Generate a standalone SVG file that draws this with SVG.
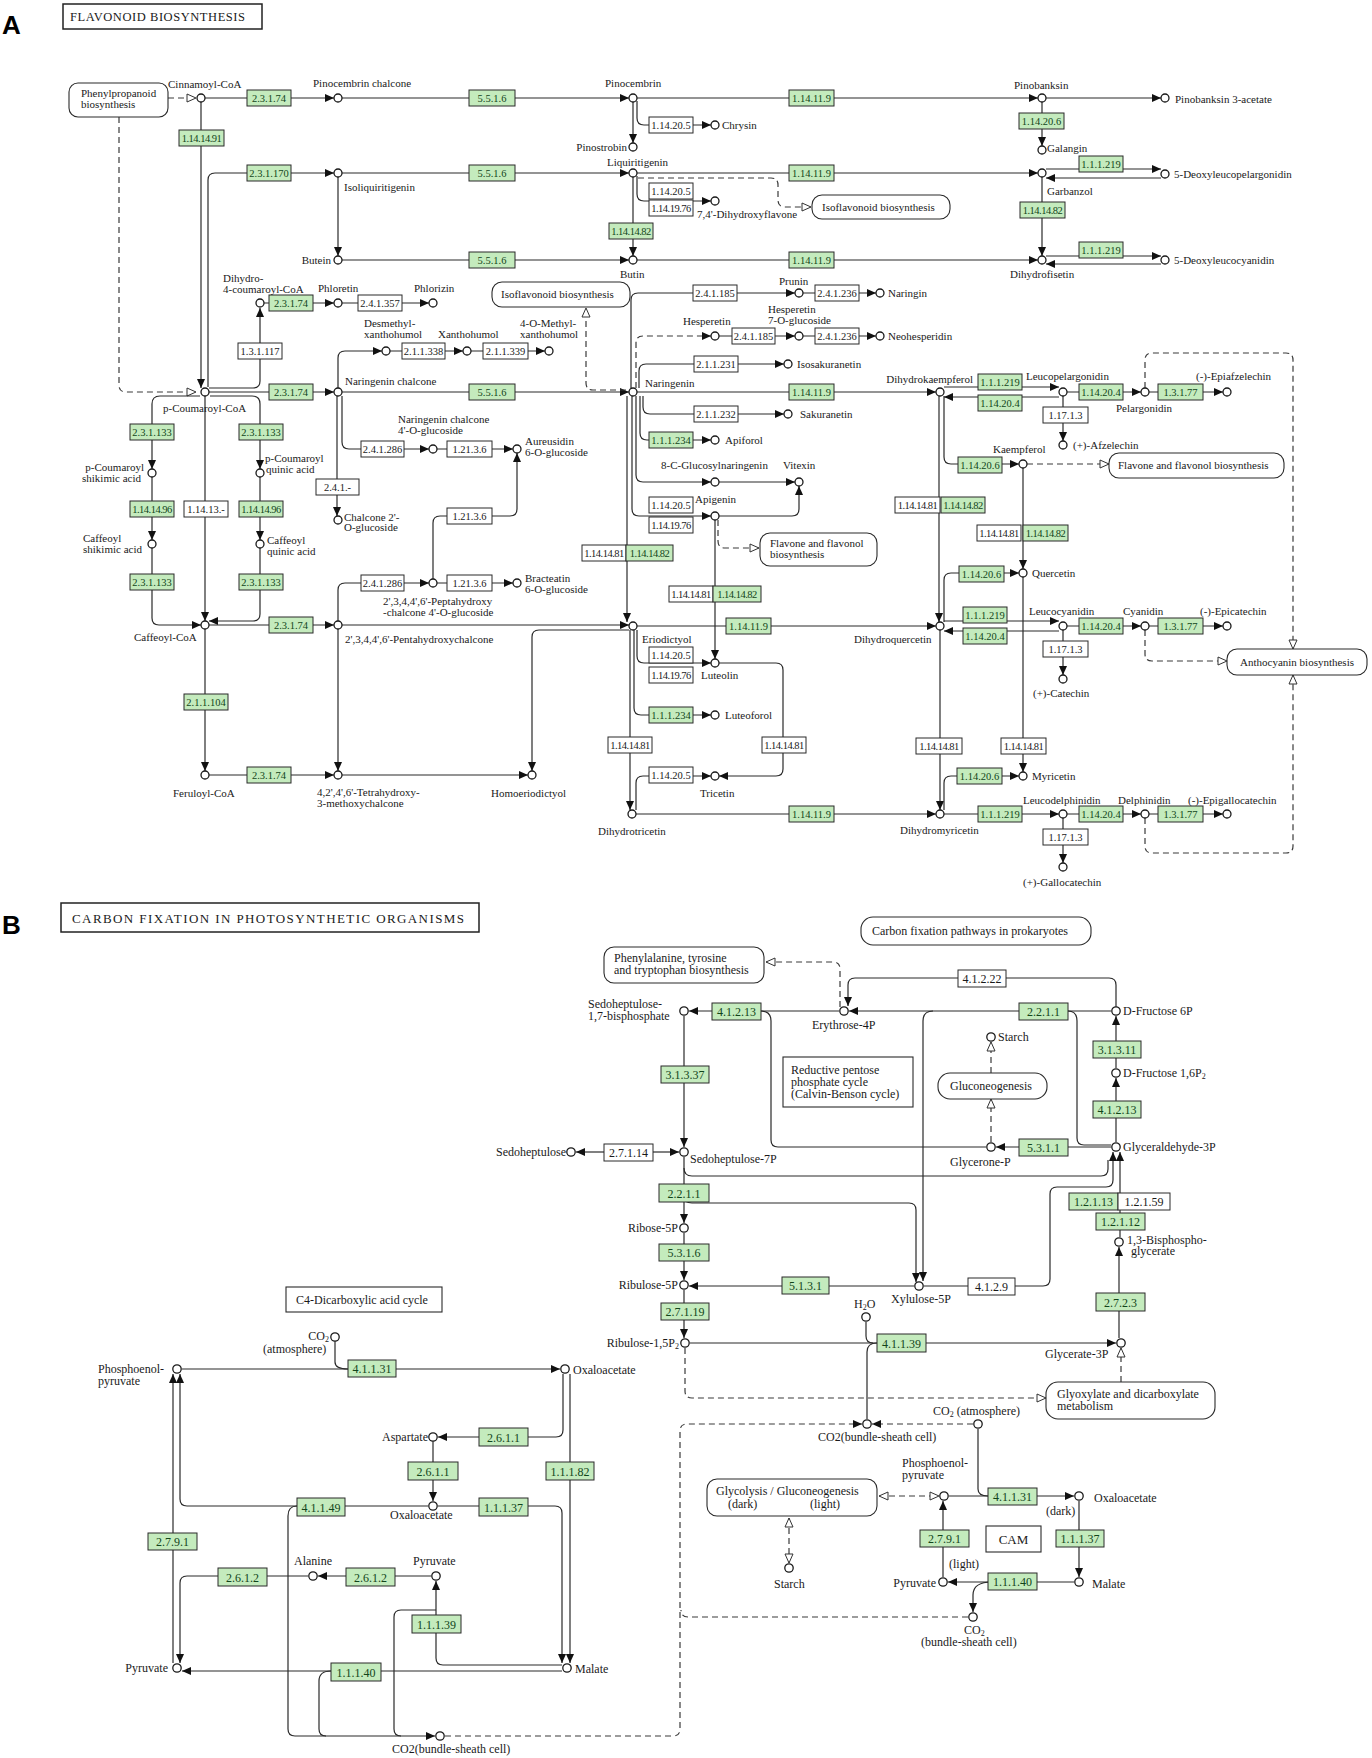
<svg xmlns="http://www.w3.org/2000/svg" width="1372" height="1758" viewBox="0 0 1372 1758">
<style>
text{font-family:"Liberation Serif","Times New Roman",serif;font-size:11px;fill:#1a1a1a}
.B text{font-size:12px}
.c{fill:#fff;stroke:#1a1a1a;stroke-width:1.3}
.eg rect{fill:#c4ebbd;stroke:#2a2a2a;stroke-width:1}
.ew rect{fill:#fff;stroke:#2a2a2a;stroke-width:1}
.eg text,.ew text{font-size:10.5px;text-anchor:middle}
.k text{letter-spacing:-0.5px}
.B .eg text,.B .ew text{font-size:12px}
.eg text{fill:#12451a}
.pw rect{fill:#fff;stroke:#2a2a2a;stroke-width:1.1}
.l{fill:none;stroke:#2a2a2a;stroke-width:1.2}
.a{marker-end:url(#ar)}
.d{fill:none;stroke:#3a3a3a;stroke-width:1.2;stroke-dasharray:6 4}
.o{marker-end:url(#oa)}
.os{marker-start:url(#osr)}
text.hd,.B text.hd{font-family:"Liberation Sans",Arial,sans-serif;font-weight:bold;font-size:26px;fill:#000}
.ttl{font-size:12.5px}
.ed{text-anchor:end}
</style>
<defs>
<marker id="ar" viewBox="0 0 9 8" refX="9" refY="4" markerWidth="9" markerHeight="8" markerUnits="userSpaceOnUse" orient="auto"><path d="M0,0L9,4L0,8z" fill="#111"/></marker>
<marker id="oa" viewBox="-1 -1 11 10" refX="9" refY="4" markerWidth="11" markerHeight="10" markerUnits="userSpaceOnUse" orient="auto"><path d="M0,0L9,4L0,8z" fill="#fff" stroke="#333" stroke-width="1"/></marker>
<marker id="osr" viewBox="-1 -1 11 10" refX="9" refY="4" markerWidth="11" markerHeight="10" markerUnits="userSpaceOnUse" orient="auto-start-reverse"><path d="M0,0L9,4L0,8z" fill="#fff" stroke="#333" stroke-width="1"/></marker>
</defs>
<rect width="1372" height="1758" fill="#fff"/>

<!-- ================= PANEL A ================= -->
<g id="panelA">
<text class="hd" x="2" y="34">A</text>
<g id="titleA"><rect x="63" y="4" width="199" height="25" fill="none" stroke="#222" stroke-width="1.5"/><text class="ttl" x="70" y="21" textLength="175" lengthAdjust="spacing">FLAVONOID BIOSYNTHESIS</text></g>

<g id="connectorsA">
<path class="d o" d="M168,98 H196"/>
<path class="d o" d="M119,117 V385 Q119,392 126,392 H196"/>
<path class="l a" d="M205,98 H334"/>
<path class="l a" d="M342,98 H629"/>
<path class="l a" d="M637,98 H1038"/>
<path class="l a" d="M1046,98 H1161"/>
<path class="l a" d="M633,102 V143"/>
<path class="l a" d="M637,101 V118 Q637,125 644,125 H711"/>
<path class="l a" d="M1042,102 V146"/>
<path class="l a" d="M201,102 V388"/>
<path class="l a" d="M208,387 V180 Q208,173 215,173 H334"/>
<path class="l a" d="M209,388 H253 Q260,388 260,381 V308"/>
<path class="l a" d="M342,173 H629"/>
<path class="l a" d="M637,173 H1038"/>
<path class="l a" d="M1046,169 H1161"/>
<path class="l a" d="M1161,178 H1046"/>
<path class="l a" d="M338,177 V256"/>
<path class="l a" d="M637,176 V194 Q637,201 644,201 H711"/>
<path class="d o" d="M638,178 H771 Q778,178 778,185 V200 Q778,207 785,207 H811"/>
<path class="l a" d="M633,177 V256"/>
<path class="l a" d="M1042,177 V256"/>
<path class="l a" d="M342,260 H629"/>
<path class="l a" d="M637,260 H1038"/>
<path class="l a" d="M1046,256 H1161"/>
<path class="l a" d="M1161,264 H1046"/>
<path class="l a" d="M264,303 H334"/>
<path class="l a" d="M342,303 H429"/>
<path class="l a" d="M342,392 H629"/>
<path class="l a" d="M209,392 H334"/>
<path class="l a" d="M338,388 V358 Q338,351 345,351 H382"/>
<path class="l a" d="M390,351 H463"/>
<path class="l a" d="M471,351 H545"/>
<path class="l a" d="M342,396 V442 Q342,449 349,449 H429"/>
<path class="l a" d="M337,396 V516"/>
<path class="l a" d="M437,449 H513"/>
<path class="l a" d="M433,579 V523 Q433,516 440,516 H510 Q517,516 517,509 V453"/>
<path class="l a" d="M437,583 H513"/>
<path class="l a" d="M338,621 V590 Q338,583 345,583 H429"/>
<path class="d o" d="M626,390 H593 Q586,390 586,383 V308"/>
<path class="l a" d="M631,388 V300 Q631,293 638,293 H795"/>
<path class="l a" d="M803,293 H876"/>
<path class="d a" d="M636,388 V343 Q636,336 643,336 H711"/>
<path class="l a" d="M719,336 H795"/>
<path class="l a" d="M803,336 H876"/>
<path class="l a" d="M639,388 V371 Q639,364 646,364 H784"/>
<path class="l a" d="M637,392 H936"/>
<path class="l a" d="M643,396 V407 Q643,414 650,414 H784"/>
<path class="l a" d="M640,396 V433 Q640,440 647,440 H711"/>
<path class="l a" d="M636,396 V475 Q636,482 643,482 H711"/>
<path class="l a" d="M719,482 H795"/>
<path class="l a" d="M632,396 V509 Q632,516 639,516 H711"/>
<path class="l a" d="M719,516 H792 Q799,516 799,509 V486"/>
<path class="d o" d="M718,520 V541 Q718,548 725,548 H759"/>
<path class="l a" d="M627,396 V622"/>
<path class="l a" d="M715,520 V659"/>
<path class="l a" d="M637,626 H936"/>
<path class="l a" d="M342,625 H629"/>
<path class="l a" d="M629,630 H539 Q532,630 532,637 V771"/>
<path class="l a" d="M342,775 H528"/>
<path class="l a" d="M637,630 V656 Q637,663 644,663 H711"/>
<path class="l a" d="M634,630 V708 Q634,715 641,715 H711"/>
<path class="l a" d="M630,630 V810"/>
<path class="l a" d="M719,663 H776 Q783,663 783,670 V769 Q783,776 776,776 H719"/>
<path class="l a" d="M636,810 V783 Q636,776 643,776 H711"/>
<path class="l a" d="M636,814 H936"/>
<path class="l a" d="M200,396 H160 Q152,396 152,404 V469"/>
<path class="l a" d="M210,396 H252 Q260,396 260,404 V469"/>
<path class="l a" d="M205,396 V621"/>
<path class="l a" d="M152,477 V540"/>
<path class="l a" d="M260,477 V540"/>
<path class="l a" d="M152,548 V618 Q152,625 159,625 H201"/>
<path class="l a" d="M260,548 V614 Q260,621 253,621 H209"/>
<path class="l a" d="M209,625 H334"/>
<path class="l a" d="M205,629 V771"/>
<path class="l a" d="M209,775 H334"/>
<path class="l a" d="M338,629 V771"/>
<path class="l a" d="M944,387 H1059"/>
<path class="l a" d="M1059,397 H944"/>
<path class="l a" d="M1067,392 H1141"/>
<path class="l a" d="M1149,392 H1223"/>
<path class="l a" d="M1063,396 V441"/>
<path class="d o" d="M1145,388 V360 Q1145,353 1152,353 H1286 Q1293,353 1293,360 V649"/>
<path class="l a" d="M944,396 V457 Q944,464 951,464 H1019"/>
<path class="d o" d="M1027,464 H1109"/>
<path class="l a" d="M939,396 V622"/>
<path class="l a" d="M1023,468 V569"/>
<path class="l a" d="M944,622 V580 Q944,573 951,573 H1019"/>
<path class="l a" d="M944,621 H1059"/>
<path class="l a" d="M1059,631 H944"/>
<path class="l a" d="M1067,626 H1141"/>
<path class="l a" d="M1149,626 H1223"/>
<path class="l a" d="M1063,630 V675"/>
<path class="d o" d="M1145,630 V654 Q1145,661 1152,661 H1227"/>
<path class="l a" d="M1023,577 V772"/>
<path class="l a" d="M940,630 V810"/>
<path class="l a" d="M944,810 V783 Q944,776 951,776 H1019"/>
<path class="l a" d="M944,814 H1059"/>
<path class="l a" d="M1067,814 H1141"/>
<path class="l a" d="M1149,814 H1223"/>
<path class="l a" d="M1063,818 V863"/>
<path class="d o" d="M1145,818 V846 Q1145,853 1152,853 H1286 Q1293,853 1293,846 V675"/>
</g>

<g id="pathwaysA">
<g id="pw_phenylpropanoid" class="pw"><rect x="69" y="83" width="99" height="34" rx="9"/><text x="81" y="97">Phenylpropanoid</text><text x="81" y="108">biosynthesis</text></g>
<g id="pw_isoflav1" class="pw"><rect x="812" y="195" width="138" height="24" rx="10"/><text x="822" y="211">Isoflavonoid biosynthesis</text></g>
<g id="pw_isoflav2" class="pw"><rect x="492" y="282" width="138" height="25" rx="10"/><text x="501" y="298">Isoflavonoid biosynthesis</text></g>
<g id="pw_flavone1" class="pw"><rect x="760" y="533" width="117" height="33" rx="10"/><text x="770" y="547">Flavone and flavonol</text><text x="770" y="558">biosynthesis</text></g>
<g id="pw_flavone2" class="pw"><rect x="1109" y="453" width="175" height="25" rx="10"/><text x="1118" y="469">Flavone and flavonol biosynthesis</text></g>
<g id="pw_anthocyanin" class="pw"><rect x="1227" y="649" width="140" height="26" rx="10"/><text x="1240" y="666">Anthocyanin biosynthesis</text></g>
</g>

<g id="enzymesA">
<g id="ea01" class="eg"><rect x="247" y="90" width="44" height="16"/><text x="269" y="102">2.3.1.74</text></g>
<g id="ea02" class="eg k"><rect x="179" y="130" width="45" height="16"/><text x="201.5" y="142">1.14.14.91</text></g>
<g id="ea03" class="eg"><rect x="469" y="90" width="46" height="16"/><text x="492" y="102">5.5.1.6</text></g>
<g id="ea04" class="eg"><rect x="789" y="90" width="45" height="16"/><text x="811.5" y="102">1.14.11.9</text></g>
<g id="ea05" class="ew"><rect x="649" y="117" width="44" height="16"/><text x="671" y="129">1.14.20.5</text></g>
<g id="ea06" class="eg"><rect x="1019" y="113" width="45" height="16"/><text x="1041.5" y="125">1.14.20.6</text></g>
<g id="ea07" class="eg"><rect x="247" y="165" width="44" height="16"/><text x="269" y="177">2.3.1.170</text></g>
<g id="ea08" class="eg"><rect x="469" y="165" width="46" height="16"/><text x="492" y="177">5.5.1.6</text></g>
<g id="ea09" class="eg"><rect x="789" y="165" width="45" height="16"/><text x="811.5" y="177">1.14.11.9</text></g>
<g id="ea10" class="ew"><rect x="649" y="183" width="44" height="16"/><text x="671" y="195">1.14.20.5</text></g>
<g id="ea11" class="ew k"><rect x="649" y="200" width="44" height="16"/><text x="671" y="212">1.14.19.76</text></g>
<g id="ea12" class="eg"><rect x="1079" y="156" width="44" height="16"/><text x="1101" y="168">1.1.1.219</text></g>
<g id="ea13" class="eg k"><rect x="609" y="223" width="44" height="16"/><text x="631" y="235">1.14.14.82</text></g>
<g id="ea14" class="eg k"><rect x="1020" y="202" width="45" height="16"/><text x="1042.5" y="214">1.14.14.82</text></g>
<g id="ea15" class="eg"><rect x="469" y="252" width="46" height="16"/><text x="492" y="264">5.5.1.6</text></g>
<g id="ea16" class="eg"><rect x="789" y="252" width="45" height="16"/><text x="811.5" y="264">1.14.11.9</text></g>
<g id="ea17" class="eg"><rect x="1079" y="242" width="44" height="16"/><text x="1101" y="254">1.1.1.219</text></g>
<g id="ea18" class="eg"><rect x="269" y="295" width="44" height="16"/><text x="291" y="307">2.3.1.74</text></g>
<g id="ea19" class="ew"><rect x="358" y="295" width="44" height="16"/><text x="380" y="307">2.4.1.357</text></g>
<g id="ea20" class="ew"><rect x="238" y="343" width="44" height="16"/><text x="260" y="355">1.3.1.117</text></g>
<g id="ea21" class="ew"><rect x="402" y="343" width="43" height="16"/><text x="423.5" y="355">2.1.1.338</text></g>
<g id="ea22" class="ew"><rect x="483" y="343" width="45" height="16"/><text x="505.5" y="355">2.1.1.339</text></g>
<g id="ea23" class="ew"><rect x="693" y="285" width="44" height="16"/><text x="715" y="297">2.4.1.185</text></g>
<g id="ea24" class="ew"><rect x="815" y="285" width="44" height="16"/><text x="837" y="297">2.4.1.236</text></g>
<g id="ea25" class="ew"><rect x="732" y="328" width="43" height="16"/><text x="753.5" y="340">2.4.1.185</text></g>
<g id="ea26" class="ew"><rect x="815" y="328" width="44" height="16"/><text x="837" y="340">2.4.1.236</text></g>
<g id="ea27" class="ew"><rect x="694" y="356" width="44" height="16"/><text x="716" y="368">2.1.1.231</text></g>
<g id="ea28" class="eg"><rect x="269" y="384" width="44" height="16"/><text x="291" y="396">2.3.1.74</text></g>
<g id="ea29" class="eg"><rect x="469" y="384" width="46" height="16"/><text x="492" y="396">5.5.1.6</text></g>
<g id="ea30" class="eg"><rect x="789" y="384" width="45" height="16"/><text x="811.5" y="396">1.14.11.9</text></g>
<g id="ea31" class="ew"><rect x="694" y="406" width="44" height="16"/><text x="716" y="418">2.1.1.232</text></g>
<g id="ea32" class="eg"><rect x="649" y="432" width="44" height="16"/><text x="671" y="444">1.1.1.234</text></g>
<g id="ea33" class="eg"><rect x="978" y="374" width="44" height="16"/><text x="1000" y="386">1.1.1.219</text></g>
<g id="ea34" class="eg"><rect x="978" y="395" width="44" height="16"/><text x="1000" y="407">1.14.20.4</text></g>
<g id="ea35" class="eg"><rect x="1079" y="384" width="44" height="16"/><text x="1101" y="396">1.14.20.4</text></g>
<g id="ea36" class="eg"><rect x="1158" y="384" width="45" height="16"/><text x="1180.5" y="396">1.3.1.77</text></g>
<g id="ea37" class="ew"><rect x="1043" y="407" width="45" height="16"/><text x="1065.5" y="419">1.17.1.3</text></g>
<g id="ea38" class="eg"><rect x="130" y="424" width="44" height="16"/><text x="152" y="436">2.3.1.133</text></g>
<g id="ea39" class="eg"><rect x="239" y="424" width="44" height="16"/><text x="261" y="436">2.3.1.133</text></g>
<g id="ea40" class="ew"><rect x="361" y="441" width="43" height="16"/><text x="382.5" y="453">2.4.1.286</text></g>
<g id="ea41" class="ew"><rect x="447" y="441" width="45" height="16"/><text x="469.5" y="453">1.21.3.6</text></g>
<g id="ea42" class="ew"><rect x="316" y="479" width="43" height="16"/><text x="337.5" y="491">2.4.1.-</text></g>
<g id="ea43" class="eg k"><rect x="130" y="501" width="44" height="16"/><text x="152" y="513">1.14.14.96</text></g>
<g id="ea44" class="ew"><rect x="184" y="501" width="44" height="16"/><text x="206" y="513">1.14.13.-</text></g>
<g id="ea45" class="eg k"><rect x="239" y="501" width="44" height="16"/><text x="261" y="513">1.14.14.96</text></g>
<g id="ea46" class="ew"><rect x="447" y="508" width="45" height="16"/><text x="469.5" y="520">1.21.3.6</text></g>
<g id="ea47" class="eg"><rect x="130" y="574" width="44" height="16"/><text x="152" y="586">2.3.1.133</text></g>
<g id="ea48" class="eg"><rect x="239" y="574" width="44" height="16"/><text x="261" y="586">2.3.1.133</text></g>
<g id="ea49" class="ew"><rect x="361" y="575" width="43" height="16"/><text x="382.5" y="587">2.4.1.286</text></g>
<g id="ea50" class="ew"><rect x="447" y="575" width="45" height="16"/><text x="469.5" y="587">1.21.3.6</text></g>
<g id="ea51" class="eg"><rect x="269" y="617" width="44" height="16"/><text x="291" y="629">2.3.1.74</text></g>
<g id="ea52" class="ew"><rect x="649" y="497" width="44" height="16"/><text x="671" y="509">1.14.20.5</text></g>
<g id="ea53" class="ew k"><rect x="649" y="517" width="44" height="16"/><text x="671" y="529">1.14.19.76</text></g>
<g id="ea54" class="ew k"><rect x="582" y="545" width="44" height="16"/><text x="604" y="557">1.14.14.81</text></g>
<g id="ea55" class="eg k"><rect x="626" y="545" width="47" height="16"/><text x="649.5" y="557">1.14.14.82</text></g>
<g id="ea56" class="ew k"><rect x="669" y="586" width="44" height="16"/><text x="691" y="598">1.14.14.81</text></g>
<g id="ea57" class="eg k"><rect x="713" y="586" width="48" height="16"/><text x="737" y="598">1.14.14.82</text></g>
<g id="ea58" class="eg"><rect x="726" y="618" width="45" height="16"/><text x="748.5" y="630">1.14.11.9</text></g>
<g id="ea59" class="eg"><rect x="958" y="457" width="44" height="16"/><text x="980" y="469">1.14.20.6</text></g>
<g id="ea60" class="ew k"><rect x="895" y="497" width="45" height="16"/><text x="917.5" y="509">1.14.14.81</text></g>
<g id="ea61" class="eg k"><rect x="941" y="497" width="44" height="16"/><text x="963" y="509">1.14.14.82</text></g>
<g id="ea62" class="ew k"><rect x="977" y="525" width="44" height="16"/><text x="999" y="537">1.14.14.81</text></g>
<g id="ea63" class="eg k"><rect x="1023" y="525" width="45" height="16"/><text x="1045.5" y="537">1.14.14.82</text></g>
<g id="ea64" class="eg"><rect x="959" y="566" width="45" height="16"/><text x="981.5" y="578">1.14.20.6</text></g>
<g id="ea65" class="eg"><rect x="963" y="607" width="44" height="16"/><text x="985" y="619">1.1.1.219</text></g>
<g id="ea66" class="eg"><rect x="963" y="628" width="44" height="16"/><text x="985" y="640">1.14.20.4</text></g>
<g id="ea67" class="eg"><rect x="1079" y="618" width="44" height="16"/><text x="1101" y="630">1.14.20.4</text></g>
<g id="ea68" class="eg"><rect x="1158" y="618" width="45" height="16"/><text x="1180.5" y="630">1.3.1.77</text></g>
<g id="ea69" class="ew"><rect x="1043" y="641" width="45" height="16"/><text x="1065.5" y="653">1.17.1.3</text></g>
<g id="ea70" class="ew"><rect x="649" y="647" width="44" height="16"/><text x="671" y="659">1.14.20.5</text></g>
<g id="ea71" class="ew k"><rect x="649" y="667" width="44" height="16"/><text x="671" y="679">1.14.19.76</text></g>
<g id="ea72" class="eg"><rect x="649" y="707" width="44" height="16"/><text x="671" y="719">1.1.1.234</text></g>
<g id="ea73" class="eg"><rect x="184" y="694" width="44" height="16"/><text x="206" y="706">2.1.1.104</text></g>
<g id="ea74" class="ew k"><rect x="608" y="737" width="44" height="16"/><text x="630" y="749">1.14.14.81</text></g>
<g id="ea75" class="ew k"><rect x="762" y="737" width="44" height="16"/><text x="784" y="749">1.14.14.81</text></g>
<g id="ea76" class="ew k"><rect x="916" y="738" width="46" height="16"/><text x="939" y="750">1.14.14.81</text></g>
<g id="ea77" class="ew k"><rect x="1001" y="738" width="45" height="16"/><text x="1023.5" y="750">1.14.14.81</text></g>
<g id="ea78" class="eg"><rect x="247" y="767" width="44" height="16"/><text x="269" y="779">2.3.1.74</text></g>
<g id="ea79" class="ew"><rect x="649" y="767" width="44" height="16"/><text x="671" y="779">1.14.20.5</text></g>
<g id="ea80" class="eg"><rect x="957" y="768" width="45" height="16"/><text x="979.5" y="780">1.14.20.6</text></g>
<g id="ea81" class="eg"><rect x="789" y="806" width="45" height="16"/><text x="811.5" y="818">1.14.11.9</text></g>
<g id="ea82" class="eg"><rect x="978" y="806" width="44" height="16"/><text x="1000" y="818">1.1.1.219</text></g>
<g id="ea83" class="eg"><rect x="1079" y="806" width="44" height="16"/><text x="1101" y="818">1.14.20.4</text></g>
<g id="ea84" class="eg"><rect x="1158" y="806" width="45" height="16"/><text x="1180.5" y="818">1.3.1.77</text></g>
<g id="ea85" class="ew"><rect x="1043" y="829" width="45" height="16"/><text x="1065.5" y="841">1.17.1.3</text></g>
</g>

<g id="compoundsA">
<g id="na_cinnamoyl"><circle class="c" cx="201" cy="98" r="4"/><text x="168" y="88">Cinnamoyl-CoA</text></g>
<g id="na_pinocembrin_chalcone"><circle class="c" cx="338" cy="98" r="4"/><text x="313" y="87">Pinocembrin chalcone</text></g>
<g id="na_pinocembrin"><circle class="c" cx="633" cy="98" r="4"/><text x="605" y="87">Pinocembrin</text></g>
<g id="na_pinostrobin"><circle class="c" cx="633" cy="147" r="4"/><text class="ed" x="627" y="151">Pinostrobin</text></g>
<g id="na_chrysin"><circle class="c" cx="715" cy="125" r="4"/><text x="722" y="129">Chrysin</text></g>
<g id="na_pinobanksin"><circle class="c" cx="1042" cy="98" r="4"/><text x="1014" y="89">Pinobanksin</text></g>
<g id="na_pinobanksin3ac"><circle class="c" cx="1165" cy="98" r="4"/><text x="1175" y="103">Pinobanksin 3-acetate</text></g>
<g id="na_galangin"><circle class="c" cx="1042" cy="150" r="4"/><text x="1047" y="152">Galangin</text></g>
<g id="na_isoliquiritigenin"><circle class="c" cx="338" cy="173" r="4"/><text x="344" y="191">Isoliquiritigenin</text></g>
<g id="na_liquiritigenin"><circle class="c" cx="633" cy="173" r="4"/><text x="607" y="166">Liquiritigenin</text></g>
<g id="na_dihydroxyflavone"><circle class="c" cx="715" cy="201" r="4"/><text x="697" y="218">7,4'-Dihydroxyflavone</text></g>
<g id="na_garbanzol"><circle class="c" cx="1042" cy="173" r="4"/><text x="1047" y="195">Garbanzol</text></g>
<g id="na_5deoxylp"><circle class="c" cx="1165" cy="174" r="4"/><text x="1174" y="178">5-Deoxyleucopelargonidin</text></g>
<g id="na_butein"><circle class="c" cx="338" cy="260" r="4"/><text class="ed" x="331" y="264">Butein</text></g>
<g id="na_butin"><circle class="c" cx="633" cy="260" r="4"/><text x="620" y="278">Butin</text></g>
<g id="na_dihydrofisetin"><circle class="c" cx="1042" cy="260" r="4"/><text x="1010" y="278">Dihydrofisetin</text></g>
<g id="na_5deoxylc"><circle class="c" cx="1165" cy="260" r="4"/><text x="1174" y="264">5-Deoxyleucocyanidin</text></g>
<g id="na_dihydrocoumaroyl"><circle class="c" cx="260" cy="303" r="4"/><text x="223" y="282">Dihydro-</text><text x="223" y="293">4-coumaroyl-CoA</text></g>
<g id="na_phloretin"><circle class="c" cx="338" cy="303" r="4"/><text x="318" y="292">Phloretin</text></g>
<g id="na_phlorizin"><circle class="c" cx="433" cy="303" r="4"/><text x="414" y="292">Phlorizin</text></g>
<g id="na_prunin"><circle class="c" cx="799" cy="293" r="4"/><text x="779" y="285">Prunin</text></g>
<g id="na_naringin"><circle class="c" cx="880" cy="293" r="4"/><text x="888" y="297">Naringin</text></g>
<g id="na_hesperetin"><circle class="c" cx="715" cy="336" r="4"/><text x="683" y="325">Hesperetin</text></g>
<g id="na_hesperetin7g"><circle class="c" cx="799" cy="336" r="4"/><text x="768" y="313">Hesperetin</text><text x="768" y="324">7-O-glucoside</text></g>
<g id="na_neohesperidin"><circle class="c" cx="880" cy="336" r="4"/><text x="888" y="340">Neohesperidin</text></g>
<g id="na_desmethylxh"><circle class="c" cx="386" cy="351" r="4"/><text x="364" y="327">Desmethyl-</text><text x="364" y="338">xanthohumol</text></g>
<g id="na_xanthohumol"><circle class="c" cx="467" cy="351" r="4"/><text x="438" y="338">Xanthohumol</text></g>
<g id="na_4omethylxh"><circle class="c" cx="549" cy="351" r="4"/><text x="520" y="327">4-O-Methyl-</text><text x="520" y="338">xanthohumol</text></g>
<g id="na_isosakuranetin"><circle class="c" cx="788" cy="364" r="4"/><text x="797" y="368">Isosakuranetin</text></g>
<g id="na_pcoumaroylcoa"><circle class="c" cx="205" cy="392" r="4"/><text x="163" y="412">p-Coumaroyl-CoA</text></g>
<g id="na_naringenin_chalcone"><circle class="c" cx="338" cy="392" r="4"/><text x="345" y="385">Naringenin chalcone</text></g>
<g id="na_naringenin"><circle class="c" cx="633" cy="392" r="4"/><text x="645" y="387">Naringenin</text></g>
<g id="na_sakuranetin"><circle class="c" cx="788" cy="414" r="4"/><text x="800" y="418">Sakuranetin</text></g>
<g id="na_apiforol"><circle class="c" cx="715" cy="440" r="4"/><text x="725" y="444">Apiforol</text></g>
<g id="na_dihydrokaempferol"><circle class="c" cx="940" cy="392" r="4"/><text class="ed" x="973" y="383">Dihydrokaempferol</text></g>
<g id="na_leucopelargonidin"><circle class="c" cx="1063" cy="392" r="4"/><text x="1026" y="380">Leucopelargonidin</text></g>
<g id="na_pelargonidin"><circle class="c" cx="1145" cy="392" r="4"/><text x="1116" y="412">Pelargonidin</text></g>
<g id="na_epiafzelechin"><circle class="c" cx="1227" cy="392" r="4"/><text x="1196" y="380">(-)-Epiafzelechin</text></g>
<g id="na_afzelechin"><circle class="c" cx="1063" cy="445" r="4"/><text x="1073" y="449">(+)-Afzelechin</text></g>
<g id="na_ncglucoside"><circle class="c" cx="433" cy="449" r="4"/><text x="398" y="423">Naringenin chalcone</text><text x="398" y="434">4'-O-glucoside</text></g>
<g id="na_aureusidin"><circle class="c" cx="517" cy="449" r="4"/><text x="525" y="445">Aureusidin</text><text x="525" y="456">6-O-glucoside</text></g>
<g id="na_chalcone2g"><circle class="c" cx="338" cy="520" r="4"/><text x="344" y="521">Chalcone 2'-</text><text x="344" y="531">O-glucoside</text></g>
<g id="na_pshikimic"><circle class="c" cx="152" cy="473" r="4"/><text class="ed" x="144" y="471">p-Coumaroyl</text><text class="ed" x="141" y="482">shikimic acid</text></g>
<g id="na_pquinic"><circle class="c" cx="260" cy="473" r="4"/><text x="265" y="462">p-Coumaroyl</text><text x="266" y="473">quinic acid</text></g>
<g id="na_cshikimic"><circle class="c" cx="152" cy="544" r="4"/><text x="83" y="542">Caffeoyl</text><text x="83" y="553">shikimic acid</text></g>
<g id="na_cquinic"><circle class="c" cx="260" cy="544" r="4"/><text x="267" y="544">Caffeoyl</text><text x="267" y="555">quinic acid</text></g>
<g id="na_8cglucosyl"><circle class="c" cx="715" cy="482" r="4"/><text x="661" y="469">8-C-Glucosylnaringenin</text></g>
<g id="na_vitexin"><circle class="c" cx="799" cy="482" r="4"/><text x="783" y="469">Vitexin</text></g>
<g id="na_apigenin"><circle class="c" cx="715" cy="516" r="4"/><text x="695" y="503">Apigenin</text></g>
<g id="na_kaempferol"><circle class="c" cx="1023" cy="464" r="4"/><text x="993" y="453">Kaempferol</text></g>
<g id="na_quercetin"><circle class="c" cx="1023" cy="573" r="4"/><text x="1032" y="577">Quercetin</text></g>
<g id="na_peptahydroxy"><circle class="c" cx="433" cy="583" r="4"/><text x="383" y="605">2',3,4,4',6'-Peptahydroxy</text><text x="383" y="616">-chalcone 4'-O-glucoside</text></g>
<g id="na_bracteatin"><circle class="c" cx="517" cy="583" r="4"/><text x="525" y="582">Bracteatin</text><text x="525" y="593">6-O-glucoside</text></g>
<g id="na_caffeoylcoa"><circle class="c" cx="205" cy="625" r="4"/><text x="134" y="641">Caffeoyl-CoA</text></g>
<g id="na_pentahydroxy"><circle class="c" cx="338" cy="625" r="4"/><text x="345" y="643">2',3,4,4',6'-Pentahydroxychalcone</text></g>
<g id="na_eriodictyol"><circle class="c" cx="633" cy="626" r="4"/><text x="642" y="643">Eriodictyol</text></g>
<g id="na_dihydroquercetin"><circle class="c" cx="940" cy="626" r="4"/><text x="854" y="643">Dihydroquercetin</text></g>
<g id="na_leucocyanidin"><circle class="c" cx="1063" cy="626" r="4"/><text x="1029" y="615">Leucocyanidin</text></g>
<g id="na_cyanidin"><circle class="c" cx="1145" cy="626" r="4"/><text x="1123" y="615">Cyanidin</text></g>
<g id="na_epicatechin"><circle class="c" cx="1227" cy="626" r="4"/><text x="1200" y="615">(-)-Epicatechin</text></g>
<g id="na_catechin"><circle class="c" cx="1063" cy="679" r="4"/><text x="1033" y="697">(+)-Catechin</text></g>
<g id="na_luteolin"><circle class="c" cx="715" cy="663" r="4"/><text x="701" y="679">Luteolin</text></g>
<g id="na_luteoforol"><circle class="c" cx="715" cy="715" r="4"/><text x="725" y="719">Luteoforol</text></g>
<g id="na_feruloylcoa"><circle class="c" cx="205" cy="775" r="4"/><text x="173" y="797">Feruloyl-CoA</text></g>
<g id="na_tetrahydroxy"><circle class="c" cx="338" cy="775" r="4"/><text x="317" y="796">4,2',4',6'-Tetrahydroxy-</text><text x="317" y="807">3-methoxychalcone</text></g>
<g id="na_homoeriodictyol"><circle class="c" cx="532" cy="775" r="4"/><text x="491" y="797">Homoeriodictyol</text></g>
<g id="na_tricetin"><circle class="c" cx="715" cy="776" r="4"/><text x="700" y="797">Tricetin</text></g>
<g id="na_myricetin"><circle class="c" cx="1023" cy="776" r="4"/><text x="1032" y="780">Myricetin</text></g>
<g id="na_dihydrotricetin"><circle class="c" cx="632" cy="814" r="4"/><text x="598" y="835">Dihydrotricetin</text></g>
<g id="na_dihydromyricetin"><circle class="c" cx="940" cy="814" r="4"/><text x="900" y="834">Dihydromyricetin</text></g>
<g id="na_leucodelphinidin"><circle class="c" cx="1063" cy="814" r="4"/><text x="1023" y="804">Leucodelphinidin</text></g>
<g id="na_delphinidin"><circle class="c" cx="1145" cy="814" r="4"/><text x="1118" y="804">Delphinidin</text></g>
<g id="na_epigallocatechin"><circle class="c" cx="1227" cy="814" r="4"/><text x="1188" y="804">(-)-Epigallocatechin</text></g>
<g id="na_gallocatechin"><circle class="c" cx="1063" cy="867" r="4"/><text x="1023" y="886">(+)-Gallocatechin</text></g>
</g>
</g>

<!-- ================= PANEL B ================= -->
<g id="panelB" class="B">
<text class="hd" x="2" y="934">B</text>
<g id="titleB"><rect x="61" y="903" width="418" height="29" fill="none" stroke="#222" stroke-width="1.5"/><text class="ttl" x="72" y="923" textLength="392" lengthAdjust="spacing" style="font-size:13px">CARBON FIXATION IN PHOTOSYNTHETIC ORGANISMS</text></g>

<g id="connectorsB">
<path class="d o" d="M840,1007 V969 Q840,962 833,962 H766"/>
<path class="l a" d="M1116,1007 V985 Q1116,978 1109,978 H855 Q848,978 848,985 V1006"/>
<path class="l a" d="M1111,1011 H849"/>
<path class="l a" d="M839,1011 H689"/>
<path class="l" d="M761,1011 Q771,1011 771,1021 V1140 Q771,1147 778,1147 H986"/>
<path class="l a" d="M933,1011 Q923,1011 923,1021 V1281"/>
<path class="l" d="M1068,1011 Q1077,1011 1077,1021 V1138 Q1077,1145 1084,1145 H1111"/>
<path class="l a" d="M684,1016 V1147"/>
<path class="l a" d="M653,1152 H679"/>
<path class="l a" d="M604,1152 H576"/>
<path class="l a" d="M684,1157 V1223"/>
<path class="l" d="M684,1168 Q684,1176 692,1176 H1101 Q1108,1176 1108,1169 V1160"/>
<path class="l a" d="M684,1196 Q684,1203 692,1203 H909 Q916,1203 916,1210 V1282"/>
<path class="l a" d="M684,1233 V1280"/>
<path class="l a" d="M914,1286 H689"/>
<path class="l a" d="M924,1286 H1043 Q1050,1286 1050,1279 V1194 Q1050,1187 1057,1187 H1106 Q1113,1187 1113,1180 V1152"/>
<path class="l a" d="M1111,1147 H996"/>
<path class="d o" d="M991,1142 V1099"/>
<path class="d o" d="M991,1073 V1042"/>
<path class="l a" d="M1116,1142 V1078"/>
<path class="l a" d="M1116,1068 V1016"/>
<path class="l a" d="M1120,1237 V1152"/>
<path class="l a" d="M1119,1338 V1247"/>
<path class="l a" d="M690,1343 H1116"/>
<path class="l a" d="M684,1290 V1338"/>
<path class="l" d="M866,1322 V1336 Q866,1343 873,1343"/>
<path class="l" d="M877,1343 Q867,1343 867,1352 V1419"/>
<path class="d o" d="M685,1348 V1391 Q685,1398 692,1398 H1046"/>
<path class="d o" d="M1121,1382 V1348"/>
<path class="d a" d="M973,1424 H872"/>
<path class="d a" d="M445,1736 H673 Q680,1736 680,1729 V1431 Q680,1424 687,1424 H862"/>
<path class="d" d="M968,1617 H688 Q681,1617 681,1610"/>
<path class="l" d="M978,1429 V1489 Q978,1496 988,1496"/>
<path class="l a" d="M949,1496 H1074"/>
<path class="d o os" d="M879,1496 H939"/>
<path class="d o os" d="M789,1518 V1563"/>
<path class="l a" d="M1079,1501 V1577"/>
<path class="l a" d="M1074,1582 H948"/>
<path class="l a" d="M992,1582 Q973,1582 973,1595 V1612"/>
<path class="l a" d="M943,1577 V1501"/>
<path class="l" d="M335,1341 V1362 Q335,1369 348,1369"/>
<path class="l a" d="M182,1369 H560"/>
<path class="l a" d="M563,1374 V1430 Q563,1437 556,1437 H438"/>
<path class="l a" d="M570,1374 V1663"/>
<path class="l a" d="M433,1441 V1501"/>
<path class="l a" d="M438,1506 H555 Q562,1506 562,1513 V1663"/>
<path class="l a" d="M428,1506 H187 Q180,1506 180,1499 V1374"/>
<path class="l a" d="M297,1506 Q288,1506 288,1516 V1729 Q288,1736 295,1736 H435"/>
<path class="l a" d="M173,1663 V1374"/>
<path class="l a" d="M431,1576 H318"/>
<path class="l a" d="M308,1576 H187 Q180,1576 180,1583 V1663"/>
<path class="l a" d="M562,1665 H443 Q436,1665 436,1658 V1581"/>
<path class="l" d="M436,1610 H401 Q394,1610 394,1617 V1729 Q394,1736 401,1736"/>
<path class="l a" d="M562,1671 H182"/>
<path class="l" d="M331,1671 Q319,1671 319,1681 V1729 Q319,1736 326,1736"/>
</g>

<g id="pathwaysB">
<g id="pw_prokaryotes" class="pw"><rect x="861" y="917" width="230" height="28" rx="12"/><text x="872" y="935">Carbon fixation pathways in prokaryotes</text></g>
<g id="pw_phe" class="pw"><rect x="604" y="947" width="160" height="36" rx="10"/><text x="614" y="962">Phenylalanine, tyrosine</text><text x="614" y="974">and tryptophan biosynthesis</text></g>
<g id="pw_calvin" class="pw"><rect x="783" y="1057" width="130" height="50"/><text x="791" y="1074">Reductive pentose</text><text x="791" y="1086">phosphate cycle</text><text x="791" y="1098">(Calvin-Benson cycle)</text></g>
<g id="pw_gluconeo" class="pw"><rect x="938" y="1073" width="109" height="26" rx="12"/><text x="950" y="1090">Gluconeogenesis</text></g>
<g id="pw_glyoxylate" class="pw"><rect x="1046" y="1382" width="169" height="37" rx="12"/><text x="1057" y="1398">Glyoxylate and dicarboxylate</text><text x="1057" y="1410">metabolism</text></g>
<g id="pw_glycolysis" class="pw"><rect x="707" y="1479" width="170" height="37" rx="10"/><text x="716" y="1495">Glycolysis / Gluconeogenesis</text><text x="728" y="1508">(dark)</text><text x="810" y="1508">(light)</text></g>
<g id="pw_cam" class="pw"><rect x="986" y="1526" width="55" height="26"/><text x="1013.5" y="1544" text-anchor="middle" style="font-size:13px">CAM</text></g>
<g id="pw_c4" class="pw"><rect x="286" y="1287" width="156" height="25"/><text x="296" y="1304">C4-Dicarboxylic acid cycle</text></g>
</g>

<g id="enzymesB">
<g id="eb01" class="eg"><rect x="712" y="1003" width="49" height="17"/><text x="736.5" y="1016">4.1.2.13</text></g>
<g id="eb02" class="eg"><rect x="1019" y="1003" width="49" height="17"/><text x="1043.5" y="1016">2.2.1.1</text></g>
<g id="eb03" class="ew"><rect x="958" y="970" width="48" height="17"/><text x="982" y="983">4.1.2.22</text></g>
<g id="eb04" class="eg"><rect x="661" y="1066" width="48" height="17"/><text x="685" y="1079">3.1.3.37</text></g>
<g id="eb05" class="eg"><rect x="1093" y="1041" width="48" height="17"/><text x="1117" y="1054">3.1.3.11</text></g>
<g id="eb06" class="eg"><rect x="1093" y="1101" width="48" height="17"/><text x="1117" y="1114">4.1.2.13</text></g>
<g id="eb07" class="eg"><rect x="1019" y="1139" width="49" height="17"/><text x="1043.5" y="1152">5.3.1.1</text></g>
<g id="eb08" class="ew"><rect x="604" y="1144" width="49" height="17"/><text x="628.5" y="1157">2.7.1.14</text></g>
<g id="eb09" class="eg"><rect x="659" y="1184" width="50" height="18"/><text x="684" y="1197.5">2.2.1.1</text></g>
<g id="eb10" class="eg"><rect x="1069" y="1193" width="49" height="17"/><text x="1093.5" y="1206">1.2.1.13</text></g>
<g id="eb11" class="ew"><rect x="1118" y="1193" width="52" height="17"/><text x="1144" y="1206">1.2.1.59</text></g>
<g id="eb12" class="eg"><rect x="1096" y="1213" width="49" height="17"/><text x="1120.5" y="1226">1.2.1.12</text></g>
<g id="eb13" class="eg"><rect x="659" y="1244" width="50" height="17"/><text x="684" y="1257">5.3.1.6</text></g>
<g id="eb14" class="eg"><rect x="782" y="1277" width="47" height="17"/><text x="805.5" y="1290">5.1.3.1</text></g>
<g id="eb15" class="ew"><rect x="968" y="1278" width="47" height="17"/><text x="991.5" y="1291">4.1.2.9</text></g>
<g id="eb16" class="eg"><rect x="661" y="1303" width="48" height="17"/><text x="685" y="1316">2.7.1.19</text></g>
<g id="eb17" class="eg"><rect x="1096" y="1293" width="49" height="18"/><text x="1120.5" y="1306.5">2.7.2.3</text></g>
<g id="eb18" class="eg"><rect x="877" y="1334" width="49" height="18"/><text x="901.5" y="1347.5">4.1.1.39</text></g>
<g id="eb19" class="eg"><rect x="988" y="1488" width="49" height="17"/><text x="1012.5" y="1501">4.1.1.31</text></g>
<g id="eb20" class="eg"><rect x="920" y="1530" width="49" height="17"/><text x="944.5" y="1543">2.7.9.1</text></g>
<g id="eb21" class="eg"><rect x="1056" y="1530" width="48" height="17"/><text x="1080" y="1543">1.1.1.37</text></g>
<g id="eb22" class="eg"><rect x="988" y="1573" width="49" height="17"/><text x="1012.5" y="1586">1.1.1.40</text></g>
<g id="eb23" class="eg"><rect x="348" y="1360" width="48" height="17"/><text x="372" y="1373">4.1.1.31</text></g>
<g id="eb24" class="eg"><rect x="479" y="1428" width="49" height="18"/><text x="503.5" y="1441.5">2.6.1.1</text></g>
<g id="eb25" class="eg"><rect x="408" y="1462" width="50" height="18"/><text x="433" y="1475.5">2.6.1.1</text></g>
<g id="eb26" class="eg"><rect x="546" y="1462" width="48" height="18"/><text x="570" y="1475.5">1.1.1.82</text></g>
<g id="eb27" class="eg"><rect x="297" y="1498" width="48" height="18"/><text x="321" y="1511.5">4.1.1.49</text></g>
<g id="eb28" class="eg"><rect x="479" y="1498" width="49" height="18"/><text x="503.5" y="1511.5">1.1.1.37</text></g>
<g id="eb29" class="eg"><rect x="148" y="1533" width="49" height="17"/><text x="172.5" y="1546">2.7.9.1</text></g>
<g id="eb30" class="eg"><rect x="218" y="1568" width="49" height="18"/><text x="242.5" y="1581.5">2.6.1.2</text></g>
<g id="eb31" class="eg"><rect x="346" y="1568" width="49" height="18"/><text x="370.5" y="1581.5">2.6.1.2</text></g>
<g id="eb32" class="eg"><rect x="412" y="1615" width="49" height="18"/><text x="436.5" y="1628.5">1.1.1.39</text></g>
<g id="eb33" class="eg"><rect x="331" y="1663" width="50" height="18"/><text x="356" y="1676.5">1.1.1.40</text></g>
</g>

<g id="compoundsB">
<g id="nb_s17bp"><circle class="c" cx="684" cy="1011" r="4.2"/><text x="588" y="1008">Sedoheptulose-</text><text x="588" y="1020">1,7-bisphosphate</text></g>
<g id="nb_e4p"><circle class="c" cx="844" cy="1011" r="4.2"/><text x="812" y="1029">Erythrose-4P</text></g>
<g id="nb_f6p"><circle class="c" cx="1116" cy="1011" r="4.2"/><text x="1123" y="1015">D-Fructose 6P</text></g>
<g id="nb_starch1"><circle class="c" cx="991" cy="1037" r="4.2"/><text x="998" y="1041">Starch</text></g>
<g id="nb_fbp"><circle class="c" cx="1116" cy="1073" r="4.2"/><text x="1123" y="1077">D-Fructose 1,6P<tspan font-size="8" dy="2">2</tspan></text></g>
<g id="nb_dhap"><circle class="c" cx="991" cy="1147" r="4.2"/><text x="950" y="1166">Glycerone-P</text></g>
<g id="nb_g3p"><circle class="c" cx="1116" cy="1147" r="4.2"/><text x="1123" y="1151">Glyceraldehyde-3P</text></g>
<g id="nb_s7p"><circle class="c" cx="684" cy="1152" r="4.2"/><text x="690" y="1163">Sedoheptulose-7P</text></g>
<g id="nb_sedoheptulose"><circle class="c" cx="571" cy="1152" r="4.2"/><text class="ed" x="566" y="1156">Sedoheptulose</text></g>
<g id="nb_r5p"><circle class="c" cx="684" cy="1228" r="4.2"/><text class="ed" x="678" y="1232">Ribose-5P</text></g>
<g id="nb_bpg"><circle class="c" cx="1119" cy="1242" r="4.2"/><text x="1127" y="1244">1,3-Bisphospho-</text><text x="1131" y="1255">glycerate</text></g>
<g id="nb_ru5p"><circle class="c" cx="684" cy="1285" r="4.2"/><text class="ed" x="678" y="1289">Ribulose-5P</text></g>
<g id="nb_xu5p"><circle class="c" cx="919" cy="1286" r="4.2"/><text x="891" y="1303">Xylulose-5P</text></g>
<g id="nb_h2o"><circle class="c" cx="866" cy="1317" r="4.2"/><text x="854" y="1308">H<tspan font-size="8" dy="2">2</tspan><tspan dy="-2">O</tspan></text></g>
<g id="nb_rubp"><circle class="c" cx="685" cy="1343" r="4.2"/><text class="ed" x="679" y="1347">Ribulose-1,5P<tspan font-size="8" dy="2">2</tspan></text></g>
<g id="nb_3pg"><circle class="c" cx="1121" cy="1343" r="4.2"/><text x="1045" y="1358">Glycerate-3P</text></g>
<g id="nb_co2bs"><circle class="c" cx="867" cy="1424" r="4.2"/><text x="818" y="1441">CO2(bundle-sheath cell)</text></g>
<g id="nb_co2atm"><circle class="c" cx="978" cy="1424" r="4.2"/><text x="933" y="1415">CO<tspan font-size="8" dy="2">2</tspan><tspan dy="-2"> (atmosphere)</tspan></text></g>
<g id="nb_pep_cam"><circle class="c" cx="944" cy="1496" r="4.2"/><text x="902" y="1467">Phosphoenol-</text><text x="902" y="1479">pyruvate</text></g>
<g id="nb_oaa_cam"><circle class="c" cx="1079" cy="1496" r="4.2"/><text x="1094" y="1502">Oxaloacetate</text><text x="1046" y="1515">(dark)</text></g>
<g id="nb_starch2"><circle class="c" cx="789" cy="1568" r="4.2"/><text x="774" y="1588">Starch</text></g>
<g id="nb_pyr_cam"><circle class="c" cx="943" cy="1582" r="4.2"/><text class="ed" x="936" y="1587">Pyruvate</text><text x="949" y="1568">(light)</text></g>
<g id="nb_mal_cam"><circle class="c" cx="1079" cy="1582" r="4.2"/><text x="1092" y="1588">Malate</text></g>
<g id="nb_co2bs_cam"><circle class="c" cx="973" cy="1617" r="4.2"/><text x="964" y="1634">CO<tspan font-size="8" dy="2">2</tspan></text><text x="921" y="1646">(bundle-sheath cell)</text></g>
<g id="nb_co2atm_c4"><circle class="c" cx="335" cy="1337" r="4.2"/><text class="ed" x="329" y="1340">CO<tspan font-size="8" dy="2">2</tspan></text><text x="263" y="1353">(atmosphere)</text></g>
<g id="nb_pep_c4"><circle class="c" cx="177" cy="1369" r="4.2"/><text x="98" y="1373">Phosphoenol-</text><text x="98" y="1385">pyruvate</text></g>
<g id="nb_oaa_c4"><circle class="c" cx="565" cy="1369" r="4.2"/><text x="573" y="1374">Oxaloacetate</text></g>
<g id="nb_asp"><circle class="c" cx="433" cy="1437" r="4.2"/><text class="ed" x="428" y="1441">Aspartate</text></g>
<g id="nb_oaa2_c4"><circle class="c" cx="433" cy="1506" r="4.2"/><text x="390" y="1519">Oxaloacetate</text></g>
<g id="nb_ala"><circle class="c" cx="313" cy="1576" r="4.2"/><text x="294" y="1565">Alanine</text></g>
<g id="nb_pyr_c4m"><circle class="c" cx="436" cy="1576" r="4.2"/><text x="413" y="1565">Pyruvate</text></g>
<g id="nb_pyr_c4"><circle class="c" cx="177" cy="1668" r="4.2"/><text class="ed" x="168" y="1672">Pyruvate</text></g>
<g id="nb_mal_c4"><circle class="c" cx="567" cy="1668" r="4.2"/><text x="575" y="1673">Malate</text></g>
<g id="nb_co2bs_c4"><circle class="c" cx="440" cy="1736" r="4.2"/><text x="392" y="1753">CO2(bundle-sheath cell)</text></g>
</g>
</g>
</svg>
